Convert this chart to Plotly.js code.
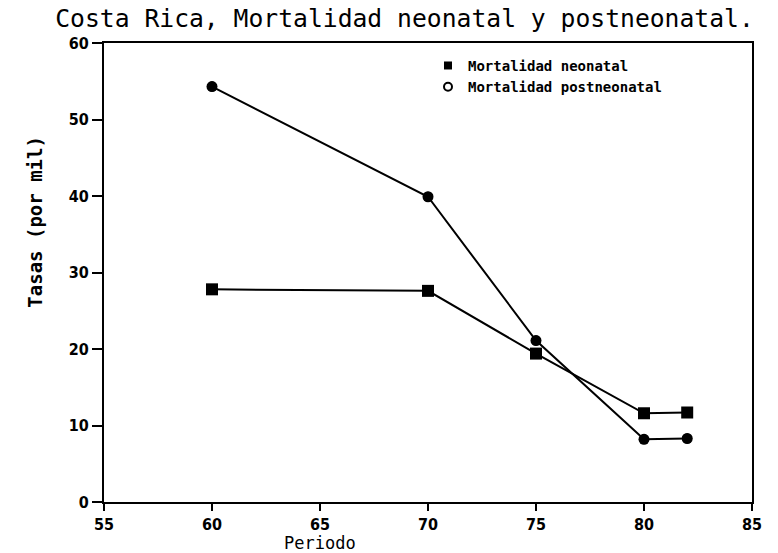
<!DOCTYPE html>
<html>
<head>
<meta charset="utf-8">
<script src="https://cdn.plot.ly/plotly-3.0.1.min.js"></script>
<style>html,body{margin:0;padding:0;background:#fff;}#chart{width:778px;height:553px;}</style>
</head>
<body>
<div id="chart"></div>
<script>
const periodo = [60, 70, 75, 80, 82];
const neonatal = [27.8, 27.6, 19.4, 11.6, 11.7];
const postneonatal = [54.3, 39.9, 21.1, 8.2, 8.3];
const seriesNames = ["Mortalidad neonatal", "Mortalidad postneonatal"];
const xTicks = [55, 60, 65, 70, 75, 80, 85];
const yTicks = [0, 10, 20, 30, 40, 50, 60];

const tickFont = {family: "DejaVu Sans Condensed", size: 16, color: "#000", weight: "bold"};

const traces = [
  {x: periodo, y: neonatal, mode: "markers", name: seriesNames[0], showlegend: true,
   marker: {symbol: "square", size: 8, color: "#000"}},
  {x: periodo, y: postneonatal, mode: "markers", name: seriesNames[1], showlegend: true,
   marker: {symbol: "circle-open", size: 8, color: "#000", line: {width: 2}}},
  {x: periodo, y: neonatal, mode: "lines+markers", showlegend: false,
   line: {color: "#000", width: 2}, marker: {symbol: "square", size: 12, color: "#000"}},
  {x: periodo, y: postneonatal, mode: "lines+markers", showlegend: false,
   line: {color: "#000", width: 2}, marker: {symbol: "circle", size: 11, color: "#000"}}
];

const layout = {
  width: 778, height: 553,
  margin: {l: 104, r: 26, t: 43, b: 51},
  paper_bgcolor: "#fff", plot_bgcolor: "#fff",
  showlegend: true,
  legend: {x: 0.5, y: 0.985, xanchor: "left", yanchor: "top", bgcolor: "rgba(0,0,0,0)",
    font: {family: "DejaVu Sans Mono", size: 14, color: "#000", weight: "bold"},
    itemwidth: 30, tracegroupgap: 0},
  xaxis: {range: [55, 85], tickvals: xTicks, ticktext: xTicks.map(String),
    showgrid: false, zeroline: false, showline: true, linecolor: "#000", linewidth: 2, mirror: true,
    ticks: "outside", ticklen: 7, tickwidth: 2, tickcolor: "#000", tickfont: tickFont},
  yaxis: {range: [0, 60], tickvals: yTicks, ticktext: yTicks.map(String),
    showgrid: false, zeroline: false, showline: true, linecolor: "#000", linewidth: 2, mirror: true,
    ticks: "outside", ticklen: 10, tickwidth: 2, tickcolor: "#000", tickfont: tickFont},
  annotations: [
    {text: "Tasas (por mil)", xref: "paper", yref: "paper", x: -0.107, y: 0.61,
     xanchor: "center", yanchor: "middle", textangle: -90, showarrow: false,
     font: {family: "DejaVu Sans Mono", size: 19, color: "#000", weight: "bold"}},
    {text: "Periodo", xref: "x", yref: "paper", x: 65, y: -0.089,
     xanchor: "center", yanchor: "middle", showarrow: false,
     font: {family: "DejaVu Sans Mono", size: 17, color: "#000"}}
  ],
  title: {text: "Costa Rica, Mortalidad neonatal y postneonatal.", x: 0.071, xanchor: "left",
    y: 0.966, yanchor: "middle",
    font: {family: "DejaVu Sans Mono", size: 24.7, color: "#000"}}
};

Plotly.newPlot("chart", traces, layout, {displayModeBar: false, staticPlot: true});
</script>
</body>
</html>
